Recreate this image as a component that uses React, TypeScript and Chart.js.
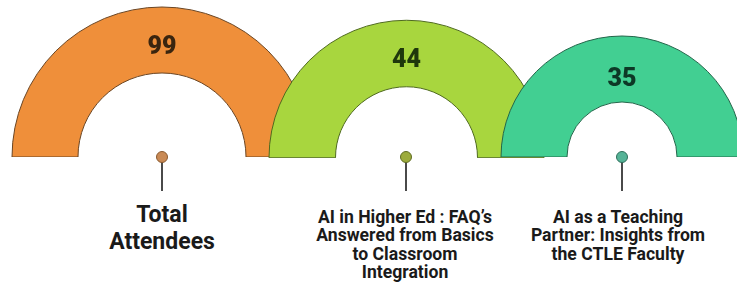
import React, { useEffect, useRef } from "react";
import { Chart, registerables } from "chart.js";

Chart.register(...registerables);

// ---- data ----
const categories: string[][] = [
  ["Total", "Attendees"],
  ["AI in Higher Ed : FAQ’s", "Answered from Basics", "to Classroom", "Integration"],
  ["AI as a Teaching", "Partner: Insights from", "the CTLE Faculty"],
];
const values: number[] = [99, 44, 35];
const fillColors: string[] = ["#ef8f3a", "#a8d63e", "#42cf92"];
const borderColors: string[] = ["#6a4523", "#4f6a1f", "#23664a"];
const valueColors: string[] = ["#3a250f", "#1f380c", "#0d3826"];
const pinColors: string[] = ["#c98a55", "#9cab3c", "#55b397"];
const pinBorders: string[] = ["#8a5a30", "#5f6b22", "#2f6f5b"];

// ---- layout ----
const centersX = [162, 406, 622];
const baseY = 157;
const outerR = [150, 137.5, 121];
const innerR = [84, 71, 55];
const valueShift = [8, 7, 11];
const labelX = [162, 405, 618];
const labelFont = [23, 17.6, 17.6];
const labelLH = [27, 18.3, 18.3];
const labelTop = [201, 208, 208];

function Gauge({ i }: { i: number }) {
  const ref = useRef<HTMLCanvasElement | null>(null);
  const pad = 3;
  const R = outerR[i];
  const W = Math.round(2 * R + 2 * pad);
  const H = Math.round(R + pad);
  useEffect(() => {
    if (!ref.current) return;
    const valuePlugin = {
      id: "valueLabel" + i,
      afterDatasetsDraw(chart: any) {
        const arc = chart.getDatasetMeta(0).data[0];
        if (!arc) return;
        const p = arc.getProps(["x", "y", "innerRadius", "outerRadius"], true);
        const ctx = chart.ctx;
        ctx.save();
        ctx.font = "900 25px Roboto";
        ctx.fillStyle = valueColors[i];
        ctx.textAlign = "center";
        ctx.textBaseline = "middle";
        ctx.fillText(
          String(values[i]),
          p.x,
          p.y - (p.innerRadius + p.outerRadius) / 2 + valueShift[i]
        );
        ctx.restore();
      },
    };
    const chart = new Chart(ref.current, {
      type: "doughnut",
      data: {
        labels: [categories[i].join(" ")],
        datasets: [
          {
            data: [values[i]],
            backgroundColor: [fillColors[i]],
            borderColor: [borderColors[i]],
            borderWidth: 1,
          },
        ],
      },
      options: {
        responsive: false,
        animation: false,
        events: [],
        rotation: -90,
        circumference: 180,
        radius: R,
        cutout: `${(innerR[i] / R) * 100}%`,
        layout: { padding: { top: pad, left: pad, right: pad, bottom: 0 } },
        plugins: { legend: { display: false }, tooltip: { enabled: false } },
      } as any,
      plugins: [valuePlugin],
    });
    return () => chart.destroy();
  }, [i]);
  return (
    <canvas
      ref={ref}
      width={W}
      height={H}
      style={{
        position: "absolute",
        left: centersX[i] - R - pad,
        top: baseY - R - pad,
        width: W,
        height: H,
      }}
    />
  );
}

export default function App() {
  return (
    <div
      style={{
        position: "absolute",
        left: 0,
        top: 0,
        width: 737,
        height: 285,
        overflow: "hidden",
        background: "#fff",
      }}
    >
      {values.map((_, i) => (
        <Gauge key={"g" + i} i={i} />
      ))}
      {values.map((_, i) => (
        <React.Fragment key={"p" + i}>
          <div
            style={{
              position: "absolute",
              left: centersX[i] - 1,
              top: baseY + 5,
              width: 2,
              height: 29,
              background: "#4a4a4a",
            }}
          />
          <div
            style={{
              position: "absolute",
              left: centersX[i] - 6,
              top: baseY - 6,
              width: 10,
              height: 10,
              borderRadius: "50%",
              background: pinColors[i],
              border: `1px solid ${pinBorders[i]}`,
            }}
          />
          <div
            style={{
              position: "absolute",
              left: labelX[i] - 130,
              width: 260,
              top: labelTop[i],
              textAlign: "center",
              fontFamily: "Roboto, sans-serif",
              fontWeight: 700,
              fontSize: labelFont[i],
              lineHeight: labelLH[i] + "px",
              color: "#1a1a1a",
            }}
          >
            {categories[i].map((l, k) => (
              <div key={k}>{l}</div>
            ))}
          </div>
        </React.Fragment>
      ))}
    </div>
  );
}
